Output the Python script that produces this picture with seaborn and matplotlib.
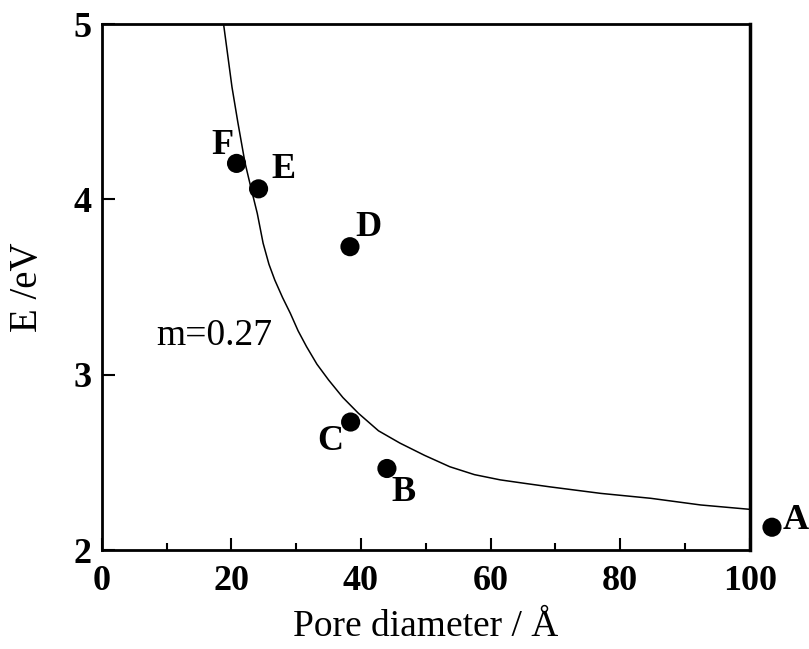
import seaborn as sns
import matplotlib.pyplot as plt
import pandas as pd
from matplotlib.ticker import MultipleLocator

# samples (pore diameter in Angstrom, energy in eV)
labels = ['A', 'B', 'C', 'D', 'E', 'F']
diameter = [103.4, 44.0, 38.4, 38.3, 24.2, 20.8]
energy = [2.13, 2.465, 2.73, 3.73, 4.06, 4.205]

# model curve (m=0.27)
curve_d = [18.8, 20.1, 21.0, 22.1, 23.0, 24.0, 24.9, 25.8, 26.7, 27.9,
           29.1, 30.3, 31.6, 33.2, 35.0, 37.2, 39.6, 42.7, 46.0, 49.8,
           53.7, 57.5, 61.5, 65.3, 69.2, 77.0, 84.7, 92.4, 100.0]
curve_e = [5.0, 4.64, 4.44, 4.21, 4.07, 3.92, 3.75, 3.63, 3.54, 3.44,
           3.35, 3.25, 3.16, 3.06, 2.97, 2.87, 2.78, 2.68, 2.61, 2.54,
           2.475, 2.43, 2.40, 2.38, 2.36, 2.323, 2.295, 2.257, 2.232]

# label offsets in points
offsets = {'A': (17, 5), 'B': (12, -17), 'C': (-15, -14),
           'D': (13, 14), 'E': (18, 14), 'F': (-10, 13)}

pts = pd.DataFrame({'label': labels, 'd': diameter, 'E': energy})
curve = pd.DataFrame({'d': curve_d, 'E': curve_e})

sns.set_theme(style="ticks")
plt.rcParams['font.family'] = ['Liberation Serif', 'DejaVu Serif']
for key in ['text.color', 'axes.labelcolor', 'xtick.color', 'ytick.color']:
    plt.rcParams[key] = 'black'

fig = plt.figure(figsize=(8.09, 6.49), dpi=100)
ax = fig.add_axes([0.1257, 0.1525, 0.8013, 0.8105])

sns.lineplot(data=curve, x='d', y='E', color='black', linewidth=1.1, ax=ax, sort=False)
sns.scatterplot(data=pts, x='d', y='E', color='black', s=190, edgecolor='none', ax=ax, zorder=5)
for coll in ax.collections:
    coll.set_clip_on(False)

for _, r in pts.iterrows():
    ax.annotate(r['label'], (r['d'], r['E']), xytext=offsets[r['label']],
                textcoords='offset points', ha='center', va='center',
                fontsize=26, fontweight='bold', annotation_clip=False)

ax.text(17.3, 3.22, 'm=0.27', fontsize=27, ha='center', va='center')

ax.set_xlim(0, 100)
ax.set_ylim(2, 5)
ax.xaxis.set_major_locator(MultipleLocator(20))
ax.xaxis.set_minor_locator(MultipleLocator(10))
ax.yaxis.set_major_locator(MultipleLocator(1))

ax.tick_params(axis='both', which='both', direction='in', top=False, right=False)
ax.tick_params(axis='both', which='major', length=9, width=1.5, labelsize=26)
ax.tick_params(axis='x', which='major', pad=11)
ax.tick_params(axis='y', which='major', pad=7)
ax.tick_params(axis='x', which='minor', length=5, width=1.5)
for lab in ax.get_xticklabels() + ax.get_yticklabels():
    lab.set_fontweight('bold')

for side in ['left', 'bottom', 'top', 'right']:
    ax.spines[side].set_visible(True)
    ax.spines[side].set_linewidth(2)
    ax.spines[side].set_color('black')
ax.spines['right'].set_linewidth(2.5)

ax.set_xlabel('Pore diameter / Å', fontsize=27, labelpad=8)
ax.set_ylabel('E /eV', fontsize=28, labelpad=20)

fig.savefig('out.png', dpi=100)
